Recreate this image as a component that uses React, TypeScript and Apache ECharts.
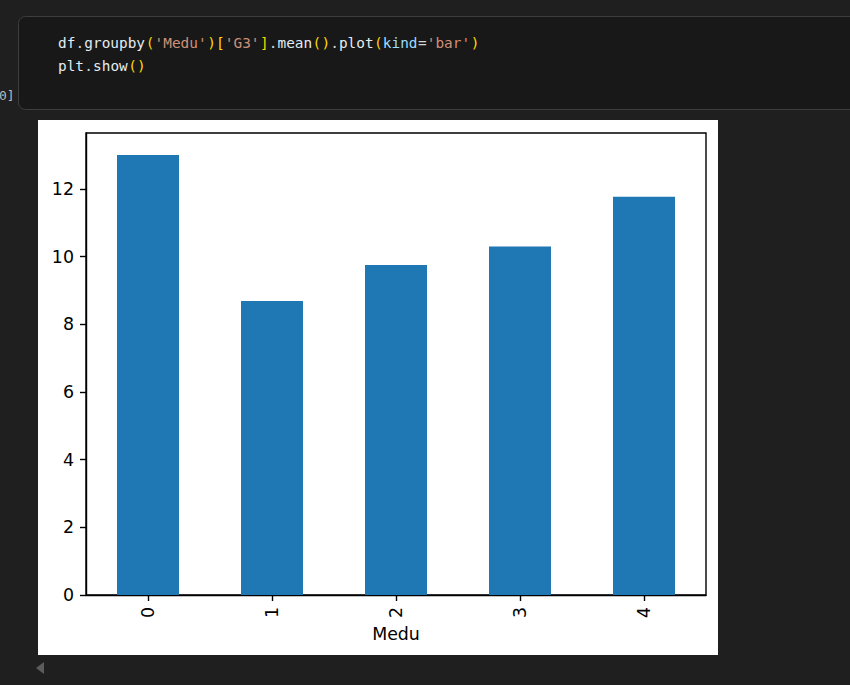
import React, { useEffect, useRef } from "react";
import * as echarts from "echarts";

const categories = ["0", "1", "2", "3", "4"];
const g3Means = [13.0, 8.69, 9.75, 10.3, 11.77];
const yTicks = [0, 2, 4, 6, 8, 10, 12];
const xAxisTitle = "Medu";
const codeLine1: [string, string][] = [
  ["v", "df"], ["p", "."], ["v", "groupby"], ["b", "("], ["s", "'Medu'"], ["b", ")"], ["b", "["],
  ["s", "'G3'"], ["b", "]"], ["p", "."], ["v", "mean"], ["b", "("], ["b", ")"], ["p", "."],
  ["v", "plot"], ["b", "("], ["k", "kind"], ["p", "="], ["s", "'bar'"], ["b", ")"],
];
const codeLine2: [string, string][] = [["v", "plt"], ["p", "."], ["v", "show"], ["b", "("], ["b", ")"]];

const tokenColors: Record<string, string> = {
  v: "#e4ecf0",
  k: "#9CDCFE",
  p: "#d4d4d4",
  b: "#FFD700",
  s: "#CE9178",
};

export default function App() {
  const ref = useRef<HTMLDivElement>(null);
  useEffect(() => {
    if (!ref.current) return;
    const chart = echarts.init(ref.current, null, { renderer: "svg" });
    const mono = "'DejaVu Sans Mono', 'Liberation Mono', monospace";
    const charW = 8.78;
    const codeTexts: any[] = [];
    const addLine = (tokens: [string, string][], topY: number) => {
      let col = 0;
      tokens.forEach(([kind, txt]) => {
        codeTexts.push({
          type: "text",
          x: 58 + col * charW,
          y: topY,
          style: {
            text: txt,
            fill: tokenColors[kind],
            fontFamily: mono,
            fontSize: 14.4,
            verticalAlign: "top",
          },
        });
        col += txt.length;
      });
    };
    addLine(codeLine1, 36);
    addLine(codeLine2, 59);
    chart.setOption({
      animation: false,
      backgroundColor: "#1f1f1f",
      graphic: [
        {
          type: "rect",
          z: -10,
          shape: { x: 18.5, y: 16.5, width: 900, height: 93, r: 7 },
          style: { fill: "#181818", stroke: "#3d3d3d", lineWidth: 1 },
        },
        ...codeTexts,
        {
          type: "text",
          x: -1,
          y: 89,
          style: { text: "0]", fill: "#bbbbbb", fontFamily: mono, fontSize: 13 },
        },
        {
          type: "rect",
          z: -5,
          shape: { x: 38, y: 120, width: 680, height: 535 },
          style: { fill: "#ffffff" },
        },
        {
          type: "polygon",
          shape: { points: [[44, 662], [44, 674], [36, 668]] },
          style: { fill: "#5c5c5c" },
        },
      ],
      grid: {
        left: 86,
        right: 144,
        top: 133,
        bottom: 90,
        show: true,
        borderColor: "#000",
        borderWidth: 1.4,
        backgroundColor: "transparent",
      },
      xAxis: {
        type: "category",
        data: categories,
        name: xAxisTitle,
        nameLocation: "middle",
        nameGap: 29,
        nameTextStyle: { color: "#000", fontSize: 17.4, fontFamily: "DejaVu Sans" },
        axisLine: { show: true, lineStyle: { color: "#000", width: 1.4 } },
        axisTick: { show: true, alignWithLabel: true, length: 6, lineStyle: { color: "#000", width: 1.4 } },
        axisLabel: { rotate: 90, margin: 12, color: "#000", fontSize: 17.4, fontFamily: "DejaVu Sans" },
        splitLine: { show: false },
      },
      yAxis: {
        type: "value",
        min: 0,
        max: 13.65,
        interval: 2,
        axisLine: { show: true, lineStyle: { color: "#000", width: 1.4 } },
        axisTick: { show: true, length: 6, lineStyle: { color: "#000", width: 1.4 }, customValues: yTicks },
        axisLabel: { margin: 12, color: "#000", fontSize: 17.4, fontFamily: "DejaVu Sans", customValues: yTicks },
        splitLine: { show: false },
      },
      series: [
        {
          type: "bar",
          data: g3Means,
          barWidth: "50%",
          itemStyle: { color: "#1f77b4" },
        },
      ],
    });
    return () => chart.dispose();
  }, []);
  return <div ref={ref} style={{ position: "fixed", left: 0, top: 0, width: 850, height: 685 }} />;
}
